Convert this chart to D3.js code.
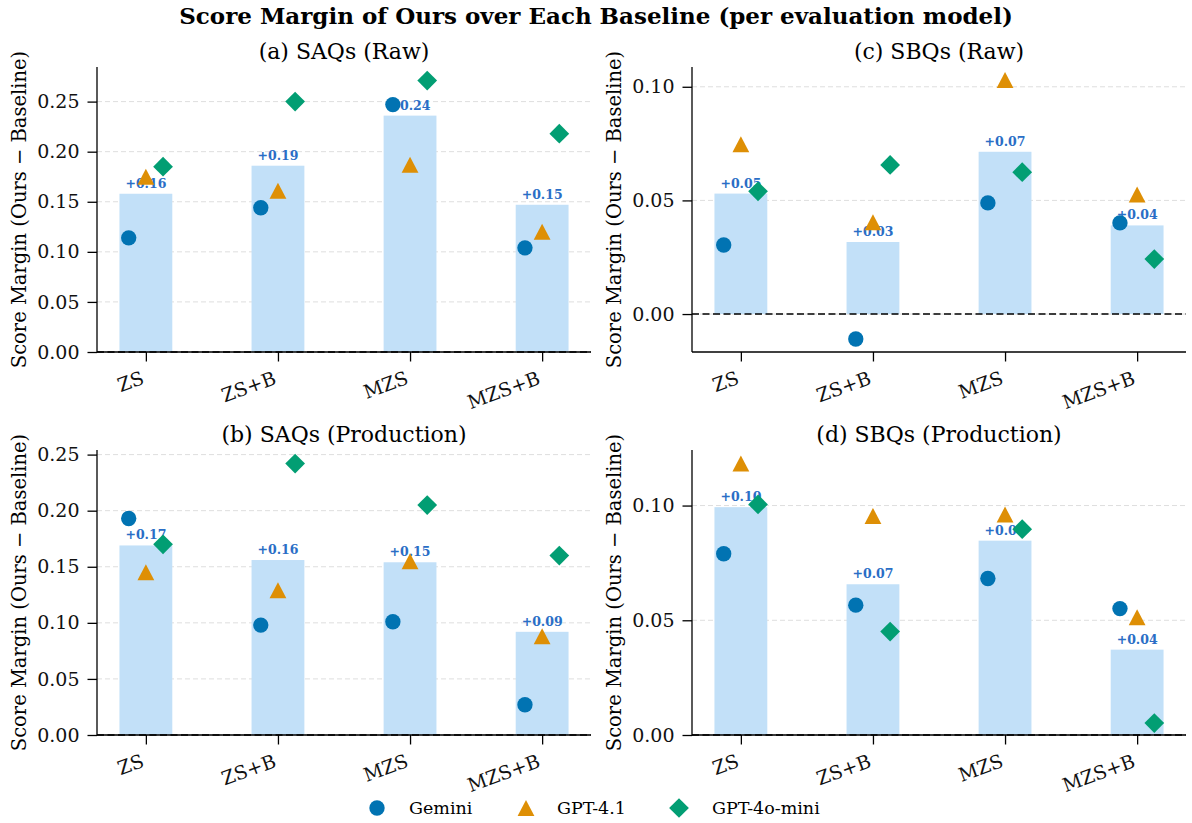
<!DOCTYPE html>
<html>
<head>
<meta charset="utf-8">
<script src="https://cdn.jsdelivr.net/npm/d3@7/dist/d3.min.js"></script>
<style>
  html, body { margin: 0; padding: 0; background: #fff; }
  svg { display: block; }
  svg text { font-family: "DejaVu Serif", serif; }
</style>
</head>
<body>
<svg id="chart" width="1192" height="823" font-family="DejaVu Serif, serif"></svg>
<script>
// Baselines compared against our method
const baselines = ["ZS", "ZS+B", "MZS", "MZS+B"];
const evaluators = ["Gemini", "GPT-4.1", "GPT-4o-mini"];

// Score margins (ours − baseline) per evaluation model, one array per panel
const saqRawGemini = [0.114, 0.144, 0.247, 0.104];
const saqRawGpt41 = [0.175, 0.161, 0.187, 0.120];
const saqRawMini = [0.185, 0.250, 0.271, 0.218];
const saqRawMean = [0.158, 0.186, 0.236, 0.147];

const saqProdGemini = [0.193, 0.098, 0.101, 0.027];
const saqProdGpt41 = [0.145, 0.129, 0.155, 0.088];
const saqProdMini = [0.170, 0.242, 0.205, 0.160];
const saqProdMean = [0.169, 0.156, 0.154, 0.092];

const sbqRawGemini = [0.0304, -0.0110, 0.0489, 0.0401];
const sbqRawGpt41 = [0.0747, 0.0404, 0.1030, 0.0526];
const sbqRawMini = [0.0540, 0.0656, 0.0624, 0.0242];
const sbqRawMean = [0.0530, 0.0317, 0.0714, 0.0390];

const sbqProdGemini = [0.0790, 0.0566, 0.0682, 0.0551];
const sbqProdGpt41 = [0.1183, 0.0955, 0.0961, 0.0513];
const sbqProdMini = [0.1005, 0.0451, 0.0897, 0.0052];
const sbqProdMean = [0.0993, 0.0657, 0.0847, 0.0372];

const panelTitles = ["(a) SAQs (Raw)", "(b) SAQs (Production)", "(c) SBQs (Raw)", "(d) SBQs (Production)"];
const ticksSaq = [0, 0.05, 0.10, 0.15, 0.20, 0.25];
const ticksSbq = [0, 0.05, 0.10];

const panels = [
  { title: panelTitles[0], series: [saqRawGemini, saqRawGpt41, saqRawMini], mean: saqRawMean, ticks: ticksSaq, x0: 97, y0: 67 },
  { title: panelTitles[2], series: [sbqRawGemini, sbqRawGpt41, sbqRawMini], mean: sbqRawMean, ticks: ticksSbq, x0: 692, y0: 67 },
  { title: panelTitles[1], series: [saqProdGemini, saqProdGpt41, saqProdMini], mean: saqProdMean, ticks: ticksSaq, x0: 97, y0: 450 },
  { title: panelTitles[3], series: [sbqProdGemini, sbqProdGpt41, sbqProdMini], mean: sbqProdMean, ticks: ticksSbq, x0: 692, y0: 450 }
];

const colors = ["#0173b2", "#de8f05", "#029e73"];
const offsets = [-0.13, 0, 0.13];
const barColor = "#c2e0f8";
const labelColor = "#2a6ec6";
const FONT = "DejaVu Serif";

const W = 494, H = 285;
const svg = d3.select("#chart");

svg.append("text")
  .attr("x", 596).attr("y", 24)
  .attr("text-anchor", "middle")
  .attr("font-family", FONT)
  .attr("font-weight", "bold")
  .attr("font-size", 23)
  .text("Score Margin of Ours over Each Baseline (per evaluation model)");

// marker shapes: circle, upward triangle centred on its box, diamond (square turned 45°)
const trianglePath = (() => {
  const p = d3.path();
  p.moveTo(0, -8); p.lineTo(8.4, 8); p.lineTo(-8.4, 8); p.closePath();
  return p.toString();
})();
function symbolPath(i) {
  if (i === 0) return d3.symbol().type(d3.symbolCircle).size(185)();
  if (i === 1) return trianglePath;
  return d3.symbol().type(d3.symbolSquare).size(195)();
}
function symbolTransform(i) {
  return i === 2 ? " rotate(45)" : "";
}

panels.forEach(p => {
  const g = svg.append("g").attr("transform", `translate(${p.x0},${p.y0})`);
  const all = p.series.flat();
  const lo = Math.min(0, d3.min(all)), hi = d3.max(all);
  const pad = 0.05 * (hi - lo);
  const yMin = d3.min(all) < 0 ? lo - pad : 0;
  const y = d3.scaleLinear().domain([yMin, hi + pad]).range([H, 0]);
  const x = d3.scaleLinear().domain([-0.37, 3.37]).range([0, W]);

  // grid
  g.append("g").selectAll("line").data(p.ticks).join("line")
    .attr("x1", 0).attr("x2", W)
    .attr("y1", d => y(d)).attr("y2", d => y(d))
    .attr("stroke", "#dedede").attr("stroke-width", 1)
    .attr("stroke-dasharray", "5,3");

  // mean bars
  g.append("g").selectAll("rect").data(p.mean).join("rect")
    .attr("x", (d, i) => x(i - 0.2))
    .attr("width", x(0.4) - x(0))
    .attr("y", d => y(Math.max(0, d)))
    .attr("height", d => Math.abs(y(d) - y(0)))
    .attr("fill", barColor);

  // zero line
  g.append("line")
    .attr("x1", 0).attr("x2", W)
    .attr("y1", y(0)).attr("y2", y(0))
    .attr("stroke", "#000").attr("stroke-width", 1.6)
    .attr("stroke-dasharray", "7,3.5");

  // bar labels
  g.append("g").selectAll("text").data(p.mean).join("text")
    .attr("x", (d, i) => x(i))
    .attr("y", d => y(d) - 6)
    .attr("text-anchor", "middle")
    .attr("font-family", FONT)
    .attr("font-size", 12.5)
    .attr("font-weight", "bold")
    .attr("fill", labelColor)
    .text(d => "+" + d.toFixed(2));

  // per-evaluator markers
  p.series.forEach((vals, si) => {
    g.append("g").selectAll("path").data(vals).join("path")
      .attr("d", symbolPath(si))
      .attr("transform", (d, i) => `translate(${x(i + offsets[si])},${y(d)})` + symbolTransform(si))
      .attr("fill", colors[si]);
  });

  // axes
  const yAxis = d3.axisLeft(y).tickValues(p.ticks).tickFormat(d3.format(".2f")).tickSize(9.5).tickPadding(8);
  const ya = g.append("g").call(yAxis);
  ya.select(".domain").attr("d", `M0,0V${H}`);
  const xAxis = d3.axisBottom(x).tickValues([0, 1, 2, 3]).tickFormat(i => baselines[i]).tickSize(9.5);
  const xa = g.append("g").attr("transform", `translate(0,${H})`).call(xAxis);
  xa.select(".domain").attr("d", `M0,0H${W}`);
  [ya, xa].forEach(a => {
    a.attr("font-family", FONT);
    a.selectAll(".domain, .tick line").attr("stroke", "#000").attr("stroke-width", 1.3);
    a.selectAll("text").attr("font-family", FONT).attr("font-size", 19).attr("fill", "#111");
  });
  xa.selectAll(".tick text")
    .attr("text-anchor", "end")
    .attr("y", 0).attr("dy", "0.75em")
    .attr("transform", "translate(-6,18) rotate(-20)");

  // panel title
  g.append("text")
    .attr("x", W / 2).attr("y", -8)
    .attr("text-anchor", "middle")
    .attr("font-family", FONT)
    .attr("font-size", 22)
    .text(p.title);

  // y label
  g.append("text")
    .attr("transform", `translate(${-71},${H / 2}) rotate(-90)`)
    .attr("text-anchor", "middle")
    .attr("font-family", FONT)
    .attr("font-size", 19.5)
    .text("Score Margin (Ours − Baseline)");
});

// legend
const legendItems = [
  { mx: 377, tx: 409 },
  { mx: 526, tx: 557 },
  { mx: 679, tx: 712 }
];
const lg = svg.append("g");
legendItems.forEach((it, i) => {
  lg.append("path")
    .attr("d", symbolPath(i))
    .attr("transform", `translate(${it.mx},808)` + symbolTransform(i))
    .attr("fill", colors[i]);
  lg.append("text")
    .attr("x", it.tx).attr("y", 814)
    .attr("font-family", FONT)
    .attr("font-size", 17.5)
    .text(evaluators[i]);
});
</script>
</body>
</html>
